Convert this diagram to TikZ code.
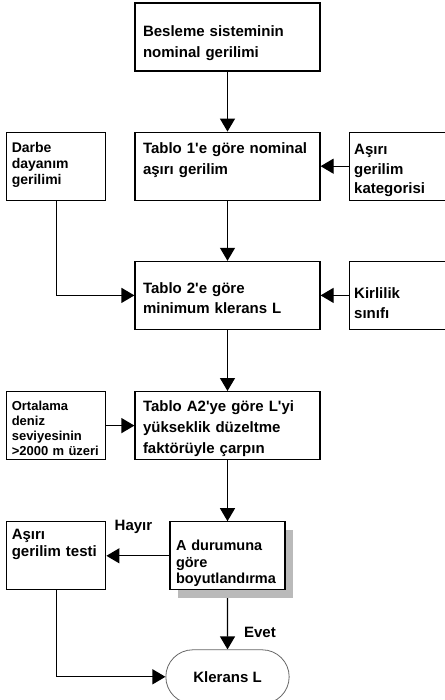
\documentclass[tikz,border=0pt]{standalone}
\usepackage{fontspec}
\setmainfont{Liberation Sans}
\usetikzlibrary{arrows.meta,positioning,shapes.misc,shadows,backgrounds}
\tikzset{
  mainbox/.style={draw, fill=white, line width=1.2pt, align=left, inner xsep=8pt,
    text width=169pt, minimum height=68pt, font=\bfseries\fontsize{15}{21}\selectfont},
  sidebox/.style={draw, fill=white, line width=1.2pt, align=left, inner xsep=5pt,
    text width=89pt, minimum height=68pt, font=\bfseries\fontsize{14}{16}\selectfont},
  casebox/.style={draw, fill=white, line width=1.2pt, align=left, inner xsep=6pt,
    text width=103pt, minimum height=68pt, font=\bfseries\fontsize{14.5}{16.5}\selectfont,
    drop shadow={shadow xshift=8pt, shadow yshift=-8pt, fill=black!27, opacity=1}},
  endnode/.style={rounded rectangle, draw=black!60, fill=white, line width=0.8pt,
    minimum width=130pt, minimum height=54pt, font=\bfseries\fontsize{15}{18}\selectfont},
  flow/.style={-{Triangle[length=13pt,width=15pt]}, line width=1.2pt},
  lbl/.style={font=\bfseries\fontsize{15}{18}\selectfont, inner sep=0pt},
}
\begin{document}
\begin{tikzpicture}
\useasboundingbox (0,0) rectangle (444pt,-700pt);
% main column
\node[mainbox, text height=22pt, text depth=22pt] (supply) at (227.5pt,-37pt) {Besleme sisteminin\\nominal gerilimi};
\node[mainbox, below=60pt of supply, text height=11pt, text depth=36pt] (overv) {Tablo 1\textquotesingle e göre nominal\\aşırı gerilim};
\node[mainbox, below=60pt of overv, text height=21pt, text depth=24pt, font=\bfseries\fontsize{15}{20}\selectfont] (minclr) {Tablo 2\textquotesingle e göre\\minimum klerans L};
\node[mainbox, below=61pt of minclr, text height=11pt, text depth=39pt] (alt) {Tablo A2\textquotesingle ye göre L\textquotesingle yi\\yükseklik düzeltme\\faktörüyle çarpın};
\node[casebox, below=61pt of alt, text height=12pt, text depth=22pt] (casea) {A durumuna\\göre\\boyutlandırma};
\node[endnode, below=59pt of casea] (clr) {Klerans L};

% side inputs
\node[sidebox, left=28pt of overv, text height=10pt, text depth=37pt] (impulse) {Darbe\\dayanım\\gerilimi};
\node[sidebox, right=28pt of overv, text height=11pt, text depth=34pt, font=\bfseries\fontsize{15}{19.5}\selectfont] (category) {Aşırı\\gerilim\\kategorisi};
\node[sidebox, right=28pt of minclr, text height=30pt, text depth=23pt, font=\bfseries\fontsize{15}{20}\selectfont] (pollution) {Kirlilik\\sınıfı};
\node[sidebox, left=28pt of alt, text height=10pt, text depth=41pt, font=\bfseries\fontsize{13}{15}\selectfont] (altitude) {Ortalama\\deniz\\seviyesinin\\>2000 m üzeri};
\node[sidebox, below=61pt of altitude, text height=11pt, text depth=44pt, font=\bfseries\fontsize{15}{17}\selectfont] (overtest) {Aşırı\\gerilim testi};

\begin{scope}[on background layer]
\foreach \a/\b in {supply/overv,overv/minclr,minclr/alt,alt/casea} \draw[flow] (\a) -- (\b);
\draw[flow] (category) -- (overv);
\draw[flow] (pollution) -- (minclr);
\draw[flow] (altitude) -- (alt);
\draw[flow] (impulse) |- (minclr);
\draw[flow] (casea) -- node[lbl, above=22pt, pos=0.57]{Hayır} (overtest);
\draw[flow] (casea) -- node[lbl, right=16pt, pos=0.71]{Evet} (clr);
\draw[flow] (overtest) |- (clr);
\end{scope}
\end{tikzpicture}
\end{document}
